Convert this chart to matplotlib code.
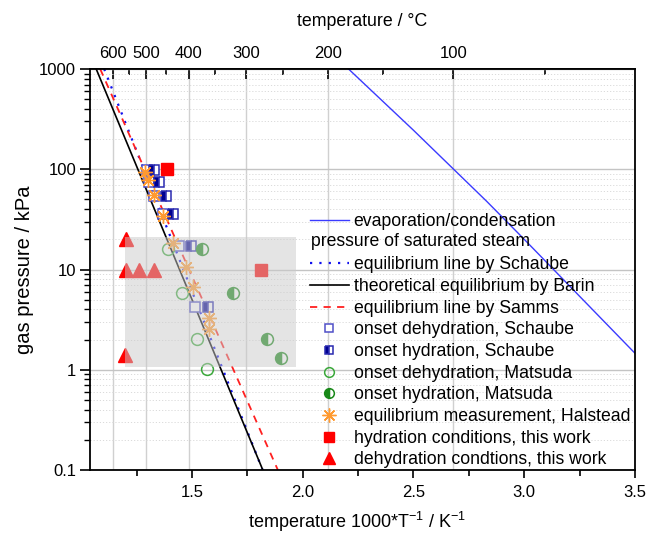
import numpy as np
import matplotlib
matplotlib.use('Agg')
import matplotlib.pyplot as plt
from matplotlib.lines import Line2D
from matplotlib.patches import Rectangle
from matplotlib.ticker import FixedLocator, NullFormatter, FuncFormatter, LogLocator

plt.rcParams['font.family'] = ['Liberation Sans', 'DejaVu Sans']
plt.rcParams['mathtext.default'] = 'regular'

# ---------------- data ----------------
sat_x = [2.207, 2.5, 2.83, 3.0, 3.5]
sat_p = [1000, 245, 48, 20, 1.46]
schaube_line_x = [1.104, 1.819]
schaube_line_p = [1000, 0.1]
barin_x = [1.068, 1.82]
barin_p = [1000, 0.1]
samms_x = [1.086, 1.888]
samms_p = [1000, 0.1]

schaube_dehyd_x = [1.297, 1.306, 1.330, 1.371, 1.441, 1.514]
schaube_dehyd_p = [98, 75, 54, 35.5, 17.1, 4.2]
schaube_hyd_x = [1.329, 1.351, 1.381, 1.416, 1.495, 1.572]
schaube_hyd_p = [98, 75, 54, 35.5, 17.1, 4.2]
matsuda_dehyd_x = [1.392, 1.455, 1.523, 1.568]
matsuda_dehyd_p = [16, 5.8, 2.03, 1.02]
matsuda_hyd_x = [1.545, 1.685, 1.838, 1.901]
matsuda_hyd_p = [16, 5.8, 2.03, 1.31]
halstead_x = [1.288, 1.302, 1.329, 1.369, 1.414, 1.473, 1.505, 1.577, 1.577]
halstead_p = [94, 78, 55, 34, 18.4, 10.6, 6.7, 3.3, 2.55]
hyd_this_x = [1.387, 1.811]
hyd_this_p = [100, 10]
dehyd_this_x = [1.203, 1.203, 1.263, 1.329, 1.198]
dehyd_this_p = [20, 10, 10, 10, 1.4]
box_x = [1.198, 1.968]
box_p = [1.06, 21.1]

top_major_T = [600, 500, 400, 300, 200, 100]
top_minor_T = [550, 450, 350, 250, 150, 50]
bottom_major = [1.5, 2.0, 2.5, 3.0, 3.5]
bottom_minor = [1.25, 1.75, 2.25, 2.75, 3.25]
y_ticks = [0.1, 1, 10, 100, 1000]

labels = ['evaporation/condensation', '', 'equilibrium line by Schaube',
          'theoretical equilibrium by Barin', 'equilibrium line by Samms',
          'onset dehydration, Schaube', 'onset hydration, Schaube',
          'onset dehydration, Matsuda', 'onset hydration, Matsuda',
          'equilibrium measurement, Halstead', 'hydration conditions, this work',
          'dehydration condtions, this work']
second_line = 'pressure of saturated steam'

# ---------------- styles ----------------
c_sat = '#3a3aff'
c_sch_line = '#1010ee'
c_sam = '#ff2020'
c_open_sq = '#5050c8'
c_half_sq = '#000090'
c_open_ci = '#3aa83a'
c_half_ci = '#188818'
c_ast = '#ff9a30'
c_red = '#ff0000'
leg_fs = 12.7


def x2T(x):
    x = np.asarray(x, dtype=float)
    with np.errstate(divide='ignore'):
        return 1000.0 / x - 273.15


def T2x(T):
    T = np.asarray(T, dtype=float)
    with np.errstate(divide='ignore'):
        return 1000.0 / (T + 273.15)


fig = plt.figure(figsize=(6.5, 5.35), dpi=100)
ax = fig.add_axes([90 / 650, 65 / 535, 545 / 650, 401 / 535])
ax.set_xlim(1.04, 3.5)
ax.set_yscale('log')
ax.set_ylim(0.1, 1000)

# grid
ax.yaxis.set_major_locator(FixedLocator(y_ticks))
ax.yaxis.set_minor_locator(LogLocator(base=10, subs=np.arange(2, 10)))
ax.yaxis.set_minor_formatter(NullFormatter())
ax.yaxis.set_major_formatter(FuncFormatter(lambda v, p: f'{v:g}'))
ax.grid(True, axis='y', which='major', color='#c4c4c4', lw=1.0, zorder=0)
ax.grid(True, axis='y', which='minor', color='#dadada', lw=0.7, ls=(0, (1.2, 2.0)), zorder=0)
for xv in T2x(top_major_T):
    ax.axvline(xv, color='#d0d0d0', lw=1.0, zorder=0)

# lines
ax.plot(sat_x, sat_p, color=c_sat, lw=1.0, zorder=2)
ax.plot(schaube_line_x, schaube_line_p, color=c_sch_line, lw=1.6, ls=(0, (1, 3.2)), zorder=2)
ax.plot(barin_x, barin_p, color='black', lw=1.2, zorder=2)
ax.plot(samms_x, samms_p, color=c_sam, lw=1.3, ls=(0, (4, 3.5)), zorder=2)

ms = 7.5
# markers
ax.plot(schaube_dehyd_x, schaube_dehyd_p, ls='none', marker='s', ms=ms,
        mfc='white', mec=c_open_sq, mew=1.1, zorder=3)
ax.plot(schaube_hyd_x, schaube_hyd_p, ls='none', marker='s', ms=ms, fillstyle='left',
        mfc=c_half_sq, markerfacecoloralt='white', mec='#2a2ab0', mew=1.1, zorder=3)
ax.plot(matsuda_dehyd_x, matsuda_dehyd_p, ls='none', marker='o', ms=ms + 1,
        mfc='none', mec=c_open_ci, mew=1.1, zorder=3)
ax.plot(matsuda_hyd_x, matsuda_hyd_p, ls='none', marker='o', ms=ms + 1, fillstyle='left',
        mfc=c_half_ci, markerfacecoloralt='white', mec=c_half_ci, mew=1.1, zorder=3)
ax.plot(halstead_x, halstead_p, ls='none', marker=(8, 2, 0), ms=ms + 3,
        mec=c_ast, mew=1.0, zorder=3)
ax.plot(hyd_this_x, hyd_this_p, ls='none', marker='s', ms=ms + 0.5,
        mfc=c_red, mec=c_red, zorder=3)
ax.plot(dehyd_this_x, dehyd_this_p, ls='none', marker='^', ms=ms + 2,
        mfc=c_red, mec=c_red, zorder=3)

# translucent box
ax.add_patch(Rectangle((box_x[0], box_p[0]), box_x[1] - box_x[0], box_p[1] - box_p[0],
                       facecolor='#cbcbcb', alpha=0.5, edgecolor='none', zorder=4))

# ticks
ax.xaxis.set_major_locator(FixedLocator(bottom_major))
ax.xaxis.set_minor_locator(FixedLocator(bottom_minor))
ax.xaxis.set_major_formatter(FuncFormatter(lambda v, p: f'{v:.1f}'))
ax.tick_params(axis='x', which='major', direction='out', length=6, width=1.2, labelsize=12, pad=5)
ax.tick_params(axis='x', which='minor', direction='out', length=4, width=1.2)
ax.tick_params(axis='y', which='major', direction='out', length=7, width=1.2, labelsize=12, pad=3)
ax.tick_params(axis='y', which='minor', direction='out', length=4, width=1.0)
for s in ax.spines.values():
    s.set_linewidth(1.3)

ax.set_xlabel('temperature 1000*T$^{-1}$ / K$^{-1}$', fontsize=13)
ax.xaxis.set_label_coords(0.49, -0.1)
ax.set_ylabel('gas pressure / kPa', fontsize=14.5)
ax.yaxis.set_label_coords(-0.103, 0.5)

sec = ax.secondary_xaxis('top', functions=(x2T, T2x))
sec.xaxis.set_major_locator(FixedLocator(top_major_T))
sec.xaxis.set_minor_locator(FixedLocator(top_minor_T))
sec.xaxis.set_minor_formatter(NullFormatter())
sec.xaxis.set_major_formatter(FuncFormatter(lambda v, p: f'{v:g}'))
sec.tick_params(axis='x', which='major', direction='in', length=7, width=1.2, labelsize=12, pad=6)
sec.tick_params(axis='x', which='minor', direction='in', length=4, width=1.2)
sec.spines['top'].set_linewidth(1.3)
sec.set_xlabel('temperature / °C', fontsize=12.8, labelpad=14)

# legend
blank = Line2D([], [], color='none')
handles = [
    Line2D([], [], color=c_sat, lw=1.0),
    blank,
    Line2D([], [], color=c_sch_line, lw=1.6, ls=(0, (1, 3.2))),
    Line2D([], [], color='black', lw=1.2),
    Line2D([], [], color=c_sam, lw=1.3, ls=(0, (4, 3.5))),
    Line2D([], [], ls='none', marker='s', ms=6, mfc='white', mec=c_open_sq, mew=1.1),
    Line2D([], [], ls='none', marker='s', ms=6, fillstyle='left', mfc=c_half_sq,
           markerfacecoloralt='white', mec='#2a2ab0', mew=1.1),
    Line2D([], [], ls='none', marker='o', ms=7, mfc='none', mec=c_open_ci, mew=1.1),
    Line2D([], [], ls='none', marker='o', ms=7, fillstyle='left', mfc=c_half_ci,
           markerfacecoloralt='white', mec=c_half_ci, mew=1.1),
    Line2D([], [], ls='none', marker=(8, 2, 0), ms=10, mec=c_ast, mew=1.0),
    Line2D([], [], ls='none', marker='s', ms=7, mfc=c_red, mec=c_red),
    Line2D([], [], ls='none', marker='^', ms=9, mfc=c_red, mec=c_red),
]
leg = ax.legend(handles, labels, loc='upper left', bbox_to_anchor=(310 / 650, 1 - 213 / 535),
                bbox_transform=fig.transFigure, frameon=False, fontsize=leg_fs,
                handlelength=2.2, handletextpad=0.28, labelspacing=0.265, borderpad=0,
                borderaxespad=0)
leg.set_zorder(6)
fig.text(311 / 650, 1 - 242 / 535, second_line, fontsize=leg_fs,
         ha='left', va='center', zorder=7)

fig.savefig('out.png', dpi=100)
